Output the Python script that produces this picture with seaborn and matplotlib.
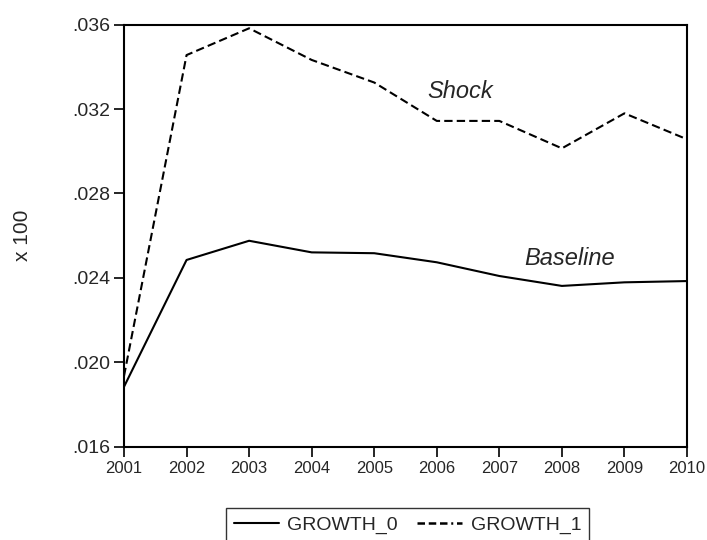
import numpy as np
import pandas as pd
import matplotlib
matplotlib.use('Agg')
import matplotlib.pyplot as plt
from matplotlib.lines import Line2D
from matplotlib.ticker import FuncFormatter
from matplotlib import font_manager
import seaborn as sns

sns.set_style('white')
plt.rcParams['font.family'] = ['Liberation Sans', 'DejaVu Sans']

# values (x 100)
years = [2001, 2002, 2003, 2004, 2005, 2006, 2007, 2008, 2009, 2010]
growth_0 = [0.01884, 0.02485, 0.02576, 0.02521, 0.02517, 0.02474, 0.02409, 0.02362, 0.02379, 0.02385]
growth_1 = [0.01935, 0.03456, 0.03583, 0.03433, 0.03326, 0.03144, 0.03144, 0.03014, 0.03180, 0.03057]
series_names = ['GROWTH_0', 'GROWTH_1']
y_ticks = [0.016, 0.020, 0.024, 0.028, 0.032, 0.036]

df = pd.DataFrame({
    'year': years * 2,
    'value': growth_0 + growth_1,
    'series': [series_names[0]] * len(years) + [series_names[1]] * len(years),
})

# narrow font for the year labels if we have it
names = {f.name for f in font_manager.fontManager.ttflist}
narrow = 'Liberation Sans Narrow' if 'Liberation Sans Narrow' in names else 'Liberation Sans'

fig = plt.figure(figsize=(7.07, 5.40), dpi=100)
ax = fig.add_axes([124 / 707, 1 - 446.7 / 540, 563 / 707, 422 / 540])

sns.lineplot(data=df, x='year', y='value', style='series',
             dashes={'GROWTH_0': '', 'GROWTH_1': (4, 2)},
             color='black', linewidth=1.5, legend=False, ax=ax)

ax.set_xlim(2001, 2010)
ax.set_ylim(0.016, 0.036)
ax.set_xticks(years)
ax.set_yticks(y_ticks)
ax.yaxis.set_major_formatter(FuncFormatter(lambda v, p: f'{v:.3f}'.lstrip('0')))
ax.tick_params(axis='both', direction='out', length=7, width=1.2, color='black',
               bottom=True, left=True, top=False, right=False)
ax.tick_params(axis='y', labelsize=14, pad=3)
ax.tick_params(axis='x', labelsize=12, pad=3.5)
for lbl in ax.get_xticklabels():
    lbl.set_family(narrow)

for s in ax.spines.values():
    s.set_visible(True)
    s.set_color('black')
    s.set_linewidth(1.5)

ax.set_xlabel('')
ax.set_ylabel('x 100', fontsize=15)
ax.yaxis.set_label_coords(-0.163, 0.5)

ax.text(2006.37, 0.03282, 'Shock', fontsize=17, style='italic', ha='center', va='center')
ax.text(2008.13, 0.02494, 'Baseline', fontsize=17, style='italic', ha='center', va='center')

handles = [
    Line2D([], [], color='black', linewidth=1.5),
    Line2D([], [], color='black', linewidth=1.8, dashes=(3, 1.5, 3, 1.5, 3, 1.5, 0.8, 1.5)),
]
leg = fig.legend(handles, series_names, loc='upper left',
                 bbox_to_anchor=(226 / 707, 1 - 508 / 540), ncol=2,
                 fontsize=14, frameon=True, fancybox=False, edgecolor='black',
                 handlelength=2.3, handletextpad=0.45, columnspacing=1.0,
                 borderaxespad=0, borderpad=0.4)
leg.get_frame().set_linewidth(1.0)

fig.savefig('out.png', dpi=100)
